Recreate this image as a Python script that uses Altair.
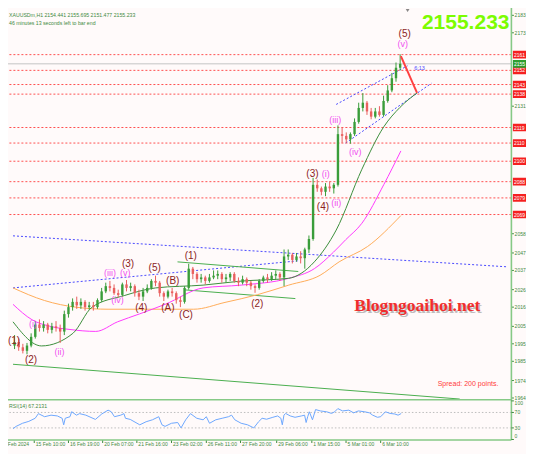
import altair as alt
import pandas as pd

# ---------------- data ----------------
# H1 chart, drawn as 4-bar candles; x is the H1 bar index
candle_close = [1996, 1993, 1991, 1994, 1999, 2006, 2004, 2006, 2003, 2005,
                2004, 2002, 2012, 2016, 2019, 2017, 2019, 2016, 2017, 2016,
                2020, 2025, 2028, 2027, 2024, 2023, 2029, 2027, 2028, 2024,
                2022, 2025, 2027, 2031, 2030, 2024, 2022, 2025, 2024, 2020,
                2019, 2027, 2038, 2035, 2032, 2033, 2031, 2033, 2034, 2035,
                2032, 2033, 2035, 2031, 2030, 2032, 2030, 2028, 2027, 2031,
                2033, 2032, 2034, 2035, 2033, 2045, 2046, 2043, 2045, 2044,
                2049, 2055, 2086, 2084, 2082, 2085, 2084, 2086, 2115, 2114,
                2112, 2115, 2122, 2130, 2133, 2128, 2125, 2128, 2126, 2134,
                2140, 2147, 2153, 2155.233]
candle_high = [2000, 1998, 1995, 1995.5, 2001, 2008, 2009, 2008, 2007, 2007,
               2008, 2006, 2014, 2018, 2021, 2022, 2021, 2020, 2019, 2019,
               2021, 2027, 2030, 2031, 2029, 2026, 2030, 2031.5, 2030, 2029,
               2026, 2027, 2029, 2032, 2034, 2031, 2025, 2026, 2027, 2025,
               2022, 2028, 2040.8, 2039, 2036, 2035, 2034, 2035, 2037, 2037,
               2036, 2035, 2036, 2036, 2033, 2034, 2033, 2031, 2029, 2032,
               2034, 2035, 2036, 2037, 2036, 2049, 2049, 2047, 2047, 2048,
               2050, 2057, 2090, 2089, 2085, 2087, 2088, 2087, 2120, 2119,
               2116, 2116, 2124, 2133, 2138.5, 2134, 2130, 2130, 2131, 2137,
               2143, 2150, 2156, 2160.7]
candle_low = [1992, 1991, 1989.5, 1989, 1993, 1998, 2002, 2002, 2001, 2001,
              2002, 1995.5, 2000, 2010, 2014, 2015, 2015, 2014, 2014.5, 2014,
              2015, 2019, 2024, 2025, 2023, 2021.5, 2022, 2025, 2025, 2022,
              2020, 2019.5, 2024, 2026, 2028, 2022, 2019.5, 2021, 2022, 2018,
              2016, 2018, 2026, 2032, 2030, 2030, 2029, 2030, 2032, 2032,
              2030, 2030, 2031, 2030, 2028, 2029, 2028, 2026, 2024.2, 2026,
              2030, 2030, 2031, 2032, 2031, 2028, 2043, 2041, 2042, 2041,
              2038, 2047, 2054, 2082, 2080, 2079.5, 2082, 2081, 2085, 2110,
              2110, 2109.5, 2114, 2121, 2128, 2126, 2123.5, 2124, 2125, 2125,
              2133, 2139, 2145, 2151.5]
first_open = 1994
bars_per_candle = 4

# moving averages (bar, price)
ma_green_bar = [0, 27.5, 57.8, 76.1, 107.3, 137.6, 183.4, 220.1, 266, 277.9, 290.7, 311.8, 336.6, 357.7, 373.3, 389.8]
ma_green_px = [2007.6, 1993.8, 2001.0, 2015.9, 2022.6, 2027.0, 2028.6, 2030.9, 2032.5, 2035.3, 2041.9, 2060.1, 2094.9, 2119.2, 2130.3, 2138.6]
ma_magenta_bar = [0, 18.3, 36.7, 55, 79.8, 100.9, 122, 146.7, 183.4, 220.1, 266, 290.7, 309.1, 321, 336.6, 357.7, 374.2]
ma_magenta_px = [2017.6, 2008.8, 2004.9, 2003.2, 2002.1, 2007.6, 2012.1, 2017.6, 2027.0, 2028.6, 2032.5, 2038.0, 2047.4, 2054.6, 2064.0, 2086.1, 2105.4]
ma_orange_bar = [0, 30.3, 61.5, 91.7, 122, 174.3, 204.5, 235.7, 266, 296.2, 314.6, 342.1, 374.2]
ma_orange_px = [2027.0, 2019.8, 2015.9, 2014.8, 2014.8, 2014.8, 2018.7, 2023.1, 2028.6, 2034.2, 2041.9, 2050.7, 2068.4]

# trend lines: (bar1, price1, bar2, price2)
blue_dotted = [(0, 2056.8, 476, 2039.1), (0, 2027.0, 275, 2042.5),
               (311.8, 2132.0, 380.6, 2154.1), (321.0, 2109.9, 403.6, 2144.1)]
green_solid = [(0, 1983.3, 431, 1963.4), (158.7, 2041.9, 275.2, 2036.4), (165.1, 2025.9, 272.4, 2020.9)]
red_arrow = [(374.2, 2159.6, 389.8, 2138.6)]

# horizontal levels
level_px = [2160.5, 2151.5, 2143.4, 2137.9, 2118.8, 2109.9, 2099.5, 2087.8, 2078.5, 2069.0]
level_lbl = ["2161", "2152", "2143", "2138", "2119", "2110", "2100", "2088", "2079", "2069"]
bid_px = 2155.233

# wave labels (text, bar, price)
wave_big = [("(1)", 1, 1996.6), ("(2)", 17.4, 1985.5), ("(3)", 111, 2040.8), ("(4)", 123.8, 2015.4),
            ("(5)", 136.7, 2038.6), ("(A)", 149.5, 2015.4), ("(B)", 154.1, 2030.9), ("(C)", 166.9, 2011.5),
            ("(1)", 171.5, 2045.2), ("(2)", 235.7, 2017.6), ("(3)", 288.9, 2092.2), ("(4)", 299, 2073.4),
            ("(5)", 377.9, 2172.3)]
wave_small = [("(i)", 19.3, 2006.5), ("(ii)", 44.9, 1990.5), ("(iii)", 93.6, 2035.3), ("(iv)", 100.9, 2019.8),
              ("(v)", 108.2, 2035.3), ("(i)", 301.8, 2092.2), ("(ii)", 311.8, 2075.6), ("(iii)", 310.9, 2123.1),
              ("(iv)", 330.2, 2104.9), ("(v)", 376, 2166.8)]

# RSI(14)
rsi_bar = [0, 3, 9.2, 15.3, 21.4, 24.5, 30.5, 36.7, 42.8, 47.4, 48.9, 50.4, 55, 56.6, 61.2, 64.2, 70.3, 79.5,
           85.6, 91.7, 94.7, 97.9, 103.9, 107, 108.5, 113.1, 122.3, 128.4, 134.5, 140.6, 143.7, 146.7, 152.9,
           158.9, 162.1, 166.6, 171.2, 177.3, 183.4, 186.5, 189.6, 195.6, 201.8, 207.9, 210.9, 214, 220.1,
           226.3, 232.3, 236.9, 240.3, 244.6, 250.7, 255.3, 258.4, 259.8, 261.4, 263, 267.5, 272.1, 278.2,
           281.3, 282.8, 284.3, 285.9, 288.9, 291.9, 296.5, 302.7, 307.3, 310.3, 313.4, 318, 324, 328.6,
           333.2, 339.4, 343.9, 347, 351.6, 354.7, 359.3, 363.8, 368.4, 371.5, 374.5]
rsi_val = [28, 34, 42, 47, 55, 67, 59, 63, 61, 55, 38, 55, 59, 72, 63, 67, 63, 52,
           66, 76, 72, 59, 63, 67, 55, 52, 38, 46, 51, 59, 38, 34, 42,
           44, 30, 51, 67, 55, 51, 59, 42, 51, 55, 59, 63, 51, 42,
           38, 30, 46, 55, 52.5, 57.5, 61, 55, 38, 63, 67.5, 61, 57.5, 61,
           63, 44, 59, 71.7, 51, 77.5, 74, 71.7, 67.5, 71.7, 80, 74, 76, 69,
           74, 71.7, 69, 63, 57.5, 59, 71.7, 67.5, 66, 63, 67.2]
rsi_levels = [70, 30]
rsi_ticks = [100, 70, 30, 0]
rsi_tick_baseline = ["top", "middle", "middle", "bottom"]
rsi_panel_top = 103

# price-axis labels that are not hidden behind the level boxes
price_ticks = [1964, 1974, 1985, 1995, 2005, 2016, 2026, 2037, 2047, 2058, 2131, 2173, 2183]
date_tick_bars = [-13.1, 20.5, 53.5, 86.5, 119.5, 152.9, 186.5, 219.5, 254.4, 288.3, 321.3, 354.7]
date_tick_labels = ["14 Feb 2024", "15 Feb 10:00", "16 Feb 19:00", "20 Feb 07:00", "21 Feb 16:00",
                    "23 Feb 02:00", "26 Feb 11:00", "27 Feb 20:00", "29 Feb 06:00", "1 Mar 15:00",
                    "5 Mar 01:00", "6 Mar 10:00"]

# ---------------- styling / layout ----------------
W, H = 503.4, 432
BG = "#fffafa"
GTXT = "#3f8a3f"
AXG = "#86c986"
BULL, BEAR = "#3a9d3a", "#e9605f"
FONT = "Liberation Sans"

xs = alt.Scale(domain=[0, 476], nice=False, zero=False)
ps = alt.Scale(domain=[1939.96, 2187.19], nice=False, zero=False)
rs = alt.Scale(domain=[-1.3, 1117.4], nice=False, zero=False)

opens = [first_open] + candle_close[:-1]
candles = pd.DataFrame({
    "bar": [bars_per_candle * k + 1.5 for k in range(len(candle_close))],
    "open": opens, "high": candle_high, "low": candle_low, "close": candle_close,
})
candles["dir"] = ["up" if c >= o else "down" for o, c in zip(opens, candle_close)]


def seg_df(segs):
    rows = []
    for i, (b1, p1, b2, p2) in enumerate(segs):
        rows += [{"id": i, "bar": b1, "price": p1}, {"id": i, "bar": b2, "price": p2}]
    return pd.DataFrame(rows)


def X(f="bar"):
    return alt.X(f"{f}:Q", scale=xs, axis=None)


def Y(f="price"):
    return alt.Y(f"{f}:Q", scale=ps, axis=None)


def RY(f="r"):
    return alt.Y(f"{f}:Q", scale=rs, axis=None)


one = pd.DataFrame({"a": [0]})

# ---- price axis (right) drawn from the tick list ----
ptk = pd.DataFrame({"price": price_ticks, "t": [str(v) for v in price_ticks]})
p_ticks = alt.Chart(ptk).mark_rule(color=GTXT, strokeWidth=1).encode(
    x=alt.value(W), x2=alt.value(W + 2.5), y=Y())
p_labels = alt.Chart(ptk).mark_text(font=FONT, fontSize=5, color=GTXT, align="left", baseline="middle").encode(
    x=alt.value(W + 3.2), y=Y(), text="t:N")
right_line = alt.Chart(one).mark_rule(color=AXG, strokeWidth=1.6).encode(
    x=alt.value(W), y=alt.value(0), y2=alt.value(H))

# ---- date axis (bottom) drawn from the tick list ----
dtk = pd.DataFrame({"bar": date_tick_bars, "t": date_tick_labels})
d_ticks = alt.Chart(dtk).mark_rule(color=GTXT, strokeWidth=1).encode(
    x=X(), y=alt.value(H), y2=alt.value(H + 3))
d_labels = alt.Chart(dtk).mark_text(font=FONT, fontSize=5, color=GTXT, align="left", baseline="top", dx=1.5).encode(
    x=X(), y=alt.value(H + 2.2), text="t:N")
bottom_line = alt.Chart(one).mark_rule(color=AXG, strokeWidth=1.6).encode(
    x=alt.value(0), x2=alt.value(W), y=alt.value(H))

levels = pd.DataFrame({"price": level_px, "lbl": level_lbl})
lv_rules = alt.Chart(levels).mark_rule(color="#ff5050", strokeDash=[2, 2], strokeWidth=1).encode(y=Y())
bid = alt.Chart(pd.DataFrame({"price": [bid_px]})).mark_rule(color="#c4c4c4", strokeWidth=1).encode(y=Y())

blue = alt.Chart(seg_df(blue_dotted)).mark_line(color="#4a4aff", strokeDash=[2, 2], strokeWidth=1).encode(
    x=X(), y=Y(), detail="id:N")
green = alt.Chart(seg_df(green_solid)).mark_line(color="#4caf50", strokeWidth=1).encode(
    x=X(), y=Y(), detail="id:N")


def ma(bars, px, color):
    return alt.Chart(pd.DataFrame({"bar": bars, "price": px})).mark_line(
        color=color, strokeWidth=1, interpolate="monotone").encode(x=X(), y=Y())


ma_o = ma(ma_orange_bar, ma_orange_px, "#ffad5a")
ma_m = ma(ma_magenta_bar, ma_magenta_px, "#ff3cff")
ma_g = ma(ma_green_bar, ma_green_px, "#3d8f3d")

color_enc = alt.Color("dir:N", scale=alt.Scale(domain=["up", "down"], range=[BULL, BEAR]), legend=None)
wick = alt.Chart(candles).mark_rule(strokeWidth=1).encode(x=X(), y=Y("low"), y2="high", color=color_enc)
body = alt.Chart(candles).mark_bar(size=2.4).encode(x=X(), y=Y("open"), y2="close", color=color_enc)

arrow = alt.Chart(seg_df(red_arrow)).mark_line(color="#ff4040", strokeWidth=2).encode(x=X(), y=Y(), detail="id:N")
chan_lbl = alt.Chart(pd.DataFrame({"bar": [387], "price": [2153], "t": ["6:13"]})).mark_text(
    align="left", baseline="middle", font=FONT, fontSize=5.5, color="#4a4aff").encode(x=X(), y=Y(), text="t:N")

wb = pd.DataFrame(wave_big, columns=["t", "bar", "price"])
ws = pd.DataFrame(wave_small, columns=["t", "bar", "price"])
wave_b = alt.Chart(wb).mark_text(font=FONT, fontSize=10, color="#8b2323", baseline="middle").encode(
    x=X(), y=Y(), text="t:N")
wave_s = alt.Chart(ws).mark_text(font=FONT, fontSize=9, color="#f050f0", baseline="middle").encode(
    x=X(), y=Y(), text="t:N")

shadow = alt.Chart(one).mark_text(text="Blogngoaihoi.net", font="Liberation Serif", fontWeight="bold",
                                  fontSize=17.5, color="#8a8a8a", opacity=0.55, dx=1.5, dy=1.5,
                                  align="center", baseline="middle").encode(
    x=alt.value(409.3), y=alt.value(298.3))
wm = alt.Chart(one).mark_text(text="Blogngoaihoi.net", font="Liberation Serif", fontWeight="bold",
                              fontSize=17.5, color="#f02d2d", align="center", baseline="middle").encode(
    x=alt.value(409.3), y=alt.value(298.3))
spread = alt.Chart(one).mark_text(text="Spread: 200 points.", font=FONT, fontSize=7, color="#ff3a3a",
                                  align="left", baseline="middle").encode(x=alt.value(429.7), y=alt.value(375.5))
big = alt.Chart(one).mark_text(text="2155.233", font=FONT, fontWeight="bold", fontSize=21, color="#7cfc00",
                               align="right", baseline="middle").encode(x=alt.value(501.5), y=alt.value(14.5))
hdr1 = alt.Chart(one).mark_text(text="XAUUSDm,H1  2154.441 2155.695 2151.477 2155.233", font=FONT,
                                fontSize=5.2, color=GTXT, align="left", baseline="middle").encode(
    x=alt.value(1), y=alt.value(6.8))
hdr2 = alt.Chart(one).mark_text(text="46 minutes 13 seconds left to bar end", font=FONT,
                                fontSize=5.2, color=GTXT, align="left", baseline="middle").encode(
    x=alt.value(1), y=alt.value(14.5))
marker = alt.Chart(one).mark_point(shape="triangle-down", filled=True, size=14, color="#555555").encode(
    x=alt.value(399.6), y=alt.value(2.5))

boxes = levels.assign(kind="lvl")
boxes = pd.concat([boxes, pd.DataFrame({"price": [bid_px], "lbl": ["2155"], "kind": ["bid"]})])
box_rect = alt.Chart(boxes).transform_calculate(top="datum.price + 2.2", bot="datum.price - 2.2").mark_rect().encode(
    x=alt.value(W + 1.5), x2=alt.value(W + 22), y=Y("top"), y2="bot:Q",
    color=alt.Color("kind:N", scale=alt.Scale(domain=["lvl", "bid"], range=["#f52020", "#2f9e2f"]), legend=None))
box_txt = alt.Chart(boxes).mark_text(font=FONT, fontSize=5, color="white", align="left", baseline="middle").encode(
    x=alt.value(W + 2.5), y=Y(), text="lbl:N")

price_layer = alt.layer(lv_rules, bid, blue, green, ma_o, ma_m, ma_g, wick, body, arrow, chan_lbl,
                        wave_b, wave_s, shadow, wm, spread, big, hdr1, hdr2, marker,
                        p_ticks, p_labels, right_line, d_ticks, d_labels, bottom_line,
                        box_rect, box_txt).resolve_scale(color="independent")

# ---- RSI panel ----
sep = alt.Chart(pd.DataFrame({"r": [rsi_panel_top]})).mark_rule(color=AXG, strokeWidth=1.5).encode(y=RY())
rlev = alt.Chart(pd.DataFrame({"r": rsi_levels})).mark_rule(color="#bdbdbd", strokeDash=[1.5, 2]).encode(y=RY())
rline = alt.Chart(pd.DataFrame({"bar": rsi_bar, "r": rsi_val})).mark_line(color="#6ea8ff", strokeWidth=1).encode(
    x=X(), y=RY())
rt = pd.DataFrame({"r": rsi_ticks, "t": [str(v) for v in rsi_ticks], "b": rsi_tick_baseline})
rtick = alt.Chart(rt).mark_rule(color=GTXT).encode(x=alt.value(W), x2=alt.value(W + 2.5), y=RY())
rlabs = []
for bl in ["top", "middle", "bottom"]:
    rlabs.append(alt.Chart(rt).transform_filter(f"datum.b == '{bl}'").mark_text(
        font=FONT, fontSize=5, color=GTXT, align="left", baseline=bl).encode(
        x=alt.value(W + 3.2), y=RY(), text="t:N"))
rtitle = alt.Chart(one).mark_text(text="RSI(14) 67.2131", font=FONT, fontSize=5.2, color=GTXT,
                                  align="left", baseline="middle").encode(x=alt.value(1), y=alt.value(397.5))
rsi_layer = alt.layer(sep, rlev, rline, rtick, *rlabs, rtitle)

chart = alt.layer(price_layer, rsi_layer).resolve_scale(y="independent", color="independent").properties(
    width=W, height=H, autosize=alt.AutoSizeParams(type="none"),
    padding={"left": 0, "top": 0, "right": 14.6, "bottom": 14}, background=BG,
).configure_view(stroke=None)

chart.save("out.html", embed_options={"renderer": "svg", "actions": False})
